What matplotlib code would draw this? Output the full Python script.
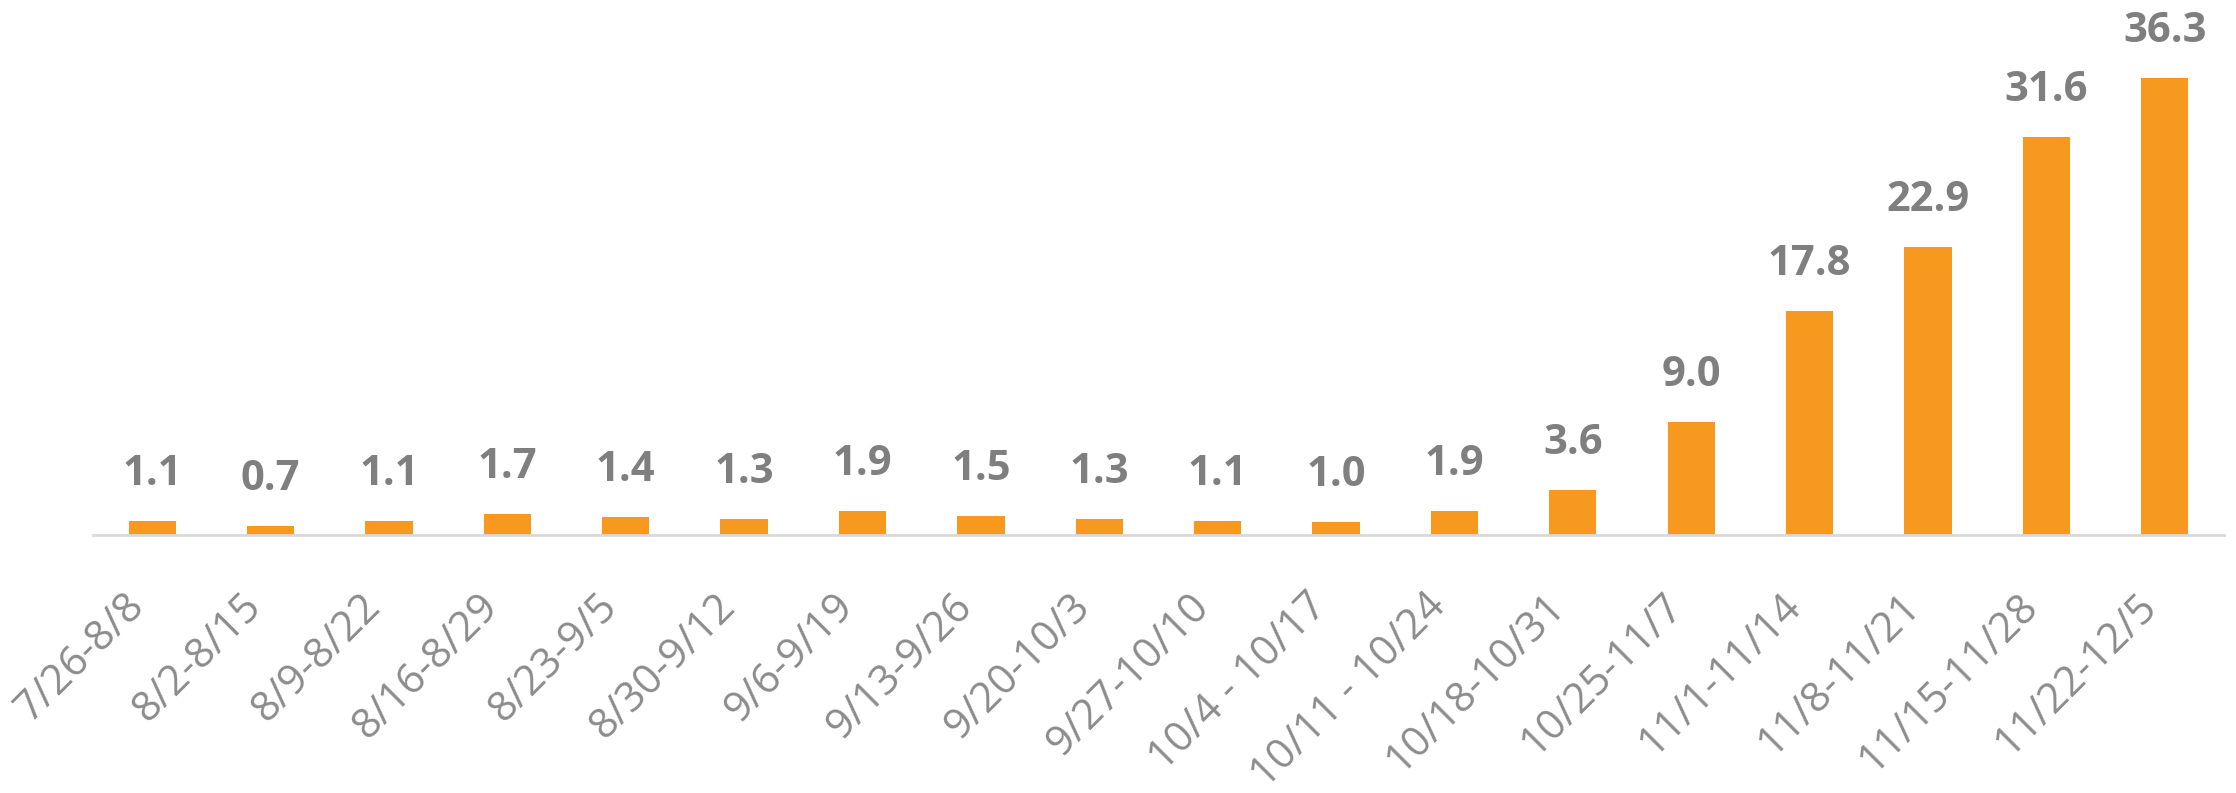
import matplotlib
matplotlib.use('Agg')
import matplotlib.pyplot as plt

# periodos semanales y valores
periodos = ['7/26-8/8', '8/2-8/15', '8/9-8/22', '8/16-8/29', '8/23-9/5', '8/30-9/12',
            '9/6-9/19', '9/13-9/26', '9/20-10/3', '9/27-10/10', '10/4 - 10/17',
            '10/11 - 10/24', '10/18-10/31', '10/25-11/7', '11/1-11/14', '11/8-11/21',
            '11/15-11/28', '11/22-12/5']
valores = [1.1, 0.7, 1.1, 1.7, 1.4, 1.3, 1.9, 1.5, 1.3, 1.1, 1.0, 1.9, 3.6, 9.0,
           17.8, 22.9, 31.6, 36.3]

NARANJA = '#F7991F'
GRIS = '#7F7F7F'
GRIS_EJE = '#8C8C8C'

fig = plt.figure(figsize=(22.36, 7.93), dpi=100)
ax = fig.add_axes([0.0416, 0.3253, 0.953, 0.6747])

x = list(range(len(valores)))
barras = ax.bar(x, valores, width=0.40, color=NARANJA, zorder=2)

for b, v in zip(barras, valores):
    ax.annotate(f'{v:.1f}', (b.get_x() + b.get_width() / 2, b.get_height()),
                xytext=(0, 26), textcoords='offset points',
                ha='center', va='baseline', fontsize=30, fontweight='bold',
                color=GRIS, family='Open Sans')

ax.set_xlim(-0.5, len(valores) - 0.5)
ax.set_ylim(0, 42.5)
ax.set_xticks(x)
ax.set_xticklabels(periodos, rotation=45, ha='right', va='top',
                   fontsize=30, color=GRIS_EJE, family='Open Sans')
ax.tick_params(axis='x', length=0, pad=36)
ax.set_yticks([])

for lado in ['top', 'right', 'left']:
    ax.spines[lado].set_visible(False)
ax.spines['bottom'].set_color('#D9D9D9')
ax.spines['bottom'].set_linewidth(2)

plt.savefig('out.png', dpi=100)
plt.close(fig)
